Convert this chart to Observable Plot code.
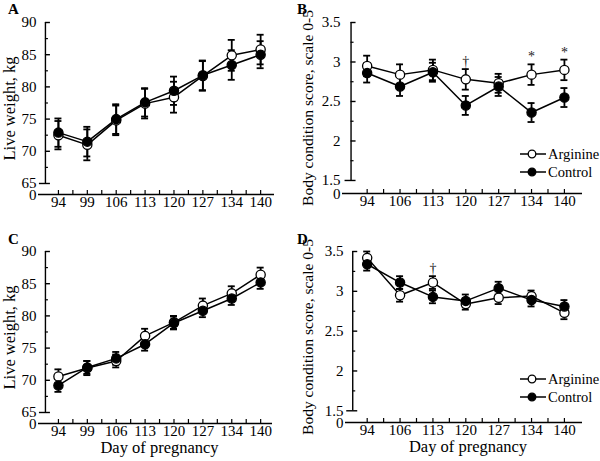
<!DOCTYPE html>
<html><head><meta charset="utf-8">
<script src="https://cdn.jsdelivr.net/npm/d3@7"></script>
<script src="https://cdn.jsdelivr.net/npm/@observablehq/plot@0.6"></script>
<style>
body{margin:0;background:#fff;}
#root{position:relative;width:600px;height:461px;font-family:"Liberation Serif",serif;color:#000;overflow:hidden;}
.panel{position:absolute;}
.letter{position:absolute;font-weight:bold;font-size:15px;line-height:15px;}
.legend{position:absolute;font-size:14.5px;line-height:18px;}
.legend div{display:flex;align-items:center;height:18px;}
.legend svg{margin-right:2px;}
</style></head><body><div id="root"></div>
<script>
// ---- data ----
const daysWeight = [94, 99, 106, 113, 120, 127, 134, 140];
const daysBCS = [94, 106, 113, 120, 127, 134, 140];

const weightA_arg   = [72.5, 71.0, 74.8, 77.4, 78.4, 81.7, 84.9, 85.8];
const weightA_argSE = [2.2, 2.4, 2.3, 2.3, 2.4, 2.3, 2.4, 2.3];
const weightA_con   = [72.9, 71.5, 75.0, 77.6, 79.4, 81.8, 83.4, 85.0];
const weightA_conSE = [2.2, 2.3, 2.3, 2.2, 2.2, 2.3, 2.3, 2.1];

const bcsB_arg   = [2.95, 2.84, 2.90, 2.78, 2.73, 2.84, 2.90];
const bcsB_argSE = [0.13, 0.13, 0.13, 0.13, 0.12, 0.13, 0.13];
const bcsB_con   = [2.86, 2.69, 2.87, 2.45, 2.69, 2.36, 2.55];
const bcsB_conSE = [0.12, 0.12, 0.12, 0.12, 0.12, 0.12, 0.12];

const weightC_arg   = [70.6, 71.9, 73.0, 76.9, 79.0, 81.6, 83.5, 86.4];
const weightC_argSE = [1.1, 1.1, 1.0, 1.1, 1.0, 1.1, 1.1, 1.1];
const weightC_con   = [69.2, 72.0, 73.4, 75.6, 78.9, 80.8, 82.7, 85.2];
const weightC_conSE = [1.0, 1.0, 1.0, 1.0, 1.0, 1.0, 1.0, 1.0];

const bcsD_arg   = [3.42, 2.95, 3.11, 2.84, 2.92, 2.94, 2.73];
const bcsD_argSE = [0.08, 0.08, 0.08, 0.07, 0.08, 0.07, 0.08];
const bcsD_con   = [3.34, 3.11, 2.93, 2.88, 3.04, 2.89, 2.81];
const bcsD_conSE = [0.08, 0.08, 0.08, 0.08, 0.08, 0.08, 0.08];

const sigB_days = [120, 134, 140];
const sigB_text = ["\u2020", "*", "*"];
const sigD_days = [113];
const sigD_text = ["\u2020"];

const weightTicks = [65, 70, 75, 80, 85, 90];
const weightMinor = [67.5, 72.5, 77.5, 82.5, 87.5];
const bcsTicks = [1.5, 2, 2.5, 3, 3.5];
const bcsMinor = [1.75, 2.25, 2.75, 3.25];

const seriesNames = ["Arginine", "Control"];
const yLabelWeight = "Live weight, kg";
const yLabelBCS = "Body condition score, scale 0-5";
const xLabel = "Day of pregnancy";

// ---- drawing ----
function rows(days, vals, se) {
  return days.map((d, i) => ({i, day: d, v: vals[i], lo: vals[i] - se[i], hi: vals[i] + se[i]}));
}

function panel(cfg) {
  const {days, arg, argSE, con, conSE, yBreak, yTicks, yMinor, yLabel, yLabelSize, xLab, sigDays, sigText,
         width, height, ml, mr, mt, mb, xd, axisIdx, yMin, yLabelDx} = cfg;
  const kx = (width - ml - mr) / (xd[1] - xd[0]);
  const ky = (height - mt - mb) / (yTicks[yTicks.length - 1] - yMin);
  const tx = 5 / kx, ty = 5 / ky, cap = 3.5 / kx;
  const A = rows(days, arg, argSE), C = rows(days, con, conSE);
  const idx = days.map((d, i) => i);
  const minor = idx.slice(0, -1).map(i => i + 0.5);
  const sig = sigDays ? sigDays.map((d, j) => {
    const i = days.indexOf(d);
    return {i, y: arg[i] + argSE[i], t: sigText[j]};
  }) : [];
  const marks = [
    Plot.ruleY([yMin], {strokeWidth: 1.4}),
    Plot.ruleX([axisIdx], {y1: yBreak, y2: yTicks[yTicks.length - 1], strokeWidth: 1.4}),
    Plot.ruleY(yTicks.filter(v => v !== yBreak), {x1: axisIdx, x2: axisIdx + tx, strokeWidth: 1.4}),
    Plot.ruleY([yBreak], {x1: axisIdx - 1.2 * tx, x2: axisIdx + tx, strokeWidth: 1.4}),
    Plot.ruleY(yMinor, {x1: axisIdx, x2: axisIdx + 0.6 * tx, strokeWidth: 1.2}),
    Plot.ruleX(idx.concat(minor), {y1: yMin, y2: yMin + 0.8 * ty, strokeWidth: 1.2}),
    Plot.axisX(idx, {tickSize: 0, tickPadding: 2, tickFormat: i => days[i], label: null, fontSize: 15}),
    Plot.axisY(yTicks, {tickSize: 0, tickPadding: 2, label: null, fontSize: 15, tickFormat: v => String(v)}),
    Plot.axisY([yMin], {tickSize: 0, tickPadding: 2, label: null, fontSize: 15, dy: 1, tickFormat: () => "0"}),
    Plot.text([yLabel], {frameAnchor: "left", textAnchor: "middle", rotate: -90, dx: yLabelDx, fontSize: yLabelSize}),
  ];
  if (xLab) marks.push(Plot.text([xLab], {frameAnchor: "bottom", textAnchor: "middle", dx: 4, dy: 29, fontSize: 16.5}));
  for (const D of [A, C]) {
    marks.push(
      Plot.ruleX(D, {x: "i", y1: "lo", y2: "hi", strokeWidth: 1.8}),
      Plot.ruleY(D, {y: "hi", x1: d => d.i - cap, x2: d => d.i + cap, strokeWidth: 1.8}),
      Plot.ruleY(D, {y: "lo", x1: d => d.i - cap, x2: d => d.i + cap, strokeWidth: 1.8})
    );
  }
  marks.push(
    Plot.line(A, {x: "i", y: "v", stroke: "black", strokeWidth: 1.5}),
    Plot.line(C, {x: "i", y: "v", stroke: "black", strokeWidth: 1.5}),
    Plot.dot(A, {x: "i", y: "v", r: 4.6, fill: "white", stroke: "black", strokeWidth: 1.3}),
    Plot.dot(C, {x: "i", y: "v", r: 4.6, fill: "black", stroke: "black", strokeWidth: 1.3}),
    Plot.text(sig, {x: "i", y: "y", text: "t", lineAnchor: "bottom", dy: -3, fontSize: 14, fill: "#222"})
  );
  return Plot.plot({
    width, height, marginLeft: ml, marginRight: mr, marginTop: mt, marginBottom: mb,
    style: {fontFamily: "'Liberation Serif', serif", fontSize: "15px", color: "black", background: "white", overflow: "visible"},
    x: {type: "linear", domain: xd, label: null},
    y: {type: "linear", domain: [yMin, yTicks[yTicks.length - 1]], label: null},
    marks
  });
}

const root = document.getElementById("root");
function place(node, left, top) {
  node.classList.add("panel");
  node.style.left = left + "px"; node.style.top = top + "px";
  root.appendChild(node);
}

place(panel({days: daysWeight, arg: weightA_arg, argSE: weightA_argSE, con: weightA_con, conSE: weightA_conSE,
  yBreak: 65, yTicks: weightTicks, yMinor: weightMinor, yLabel: yLabelWeight, yLabelSize: 16.5,
  width: 300, height: 230, ml: 38, mr: 26, mt: 22, mb: 36, xd: [-0.69, 7.48], axisIdx: -0.45, yMin: 63.29, yLabelDx: -29}), 0, 0);

place(panel({days: daysBCS, arg: bcsB_arg, argSE: bcsB_argSE, con: bcsB_con, conSE: bcsB_conSE,
  yBreak: 1.5, yTicks: bcsTicks, yMinor: bcsMinor, yLabel: yLabelBCS, yLabelSize: 15.5, sigDays: sigB_days, sigText: sigB_text,
  width: 300, height: 230, ml: 42, mr: 18, mt: 22, mb: 37, xd: [-0.75, 6.55], axisIdx: -0.49, yMin: 1.335, yLabelDx: -34}), 300, 0);

place(panel({days: daysWeight, arg: weightC_arg, argSE: weightC_argSE, con: weightC_con, conSE: weightC_conSE,
  yBreak: 65, yTicks: weightTicks, yMinor: weightMinor, yLabel: yLabelWeight, yLabelSize: 16.5, xLab: xLabel,
  width: 300, height: 231, ml: 38, mr: 28, mt: 21, mb: 38, xd: [-0.69, 7.41], axisIdx: -0.45, yMin: 63.29, yLabelDx: -29}), 0, 230);

place(panel({days: daysBCS, arg: bcsD_arg, argSE: bcsD_argSE, con: bcsD_con, conSE: bcsD_conSE,
  yBreak: 1.5, yTicks: bcsTicks, yMinor: bcsMinor, yLabel: yLabelBCS, yLabelSize: 15.5, xLab: xLabel, sigDays: sigD_days, sigText: sigD_text,
  width: 300, height: 231, ml: 45, mr: 18, mt: 21, mb: 39, xd: [-0.66, 6.55], axisIdx: -0.44, yMin: 1.353, yLabelDx: -37}), 300, 230);

// panel letters
[["A", 8, 2], ["B", 297, 2], ["C", 8, 232], ["D", 297, 232]].forEach(([t, x, y]) => {
  const s = document.createElement("div"); s.className = "letter"; s.textContent = t;
  s.style.left = x + "px"; s.style.top = y + "px"; root.appendChild(s);
});

// legends
function legend(left, top) {
  const L = document.createElement("div"); L.className = "legend";
  L.style.left = left + "px"; L.style.top = top + "px";
  seriesNames.forEach((n, k) => {
    const row = document.createElement("div");
    row.innerHTML = `<svg width="26" height="10"><line x1="0" y1="5" x2="26" y2="5" stroke="black" stroke-width="1.5"/>` +
      `<circle cx="12" cy="5" r="3.8" fill="${k === 0 ? "white" : "black"}" stroke="black" stroke-width="1.3"/></svg><span>${n}</span>`;
    L.appendChild(row);
  });
  root.appendChild(L);
}
legend(520, 145);
legend(520, 370);
</script></body></html>
